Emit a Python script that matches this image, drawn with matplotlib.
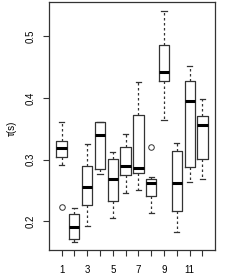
import matplotlib
matplotlib.use("Agg")
import matplotlib.pyplot as plt

plt.rcParams["font.family"] = ["Liberation Sans", "DejaVu Sans"]

groups = list(range(1, 13))
whislo = [0.2915, 0.1664, 0.1919, 0.2764, 0.2054, 0.2450, 0.2504, 0.2135, 0.3642, 0.1826, 0.2629, 0.2688]
q1 = [0.3036, 0.1707, 0.2265, 0.2841, 0.2330, 0.2748, 0.2776, 0.2407, 0.4281, 0.2163, 0.2873, 0.3008]
med = [0.3187, 0.1902, 0.2558, 0.3398, 0.2688, 0.2899, 0.2867, 0.2613, 0.4418, 0.2613, 0.3951, 0.3561]
q3 = [0.3296, 0.2114, 0.2894, 0.3615, 0.3008, 0.3208, 0.3719, 0.2678, 0.4862, 0.3138, 0.4281, 0.3702]
whishi = [0.3605, 0.2211, 0.3252, 0.3615, 0.3127, 0.3415, 0.4260, 0.2711, 0.5410, 0.3273, 0.4520, 0.3984]
fliers = [[0.2228], [], [], [], [], [], [], [0.3198], [], [], [], []]
ylabel = "τ(s)"

stats = []
for i in range(len(groups)):
    stats.append({"whislo": whislo[i], "q1": q1[i], "med": med[i], "q3": q3[i],
                  "whishi": whishi[i], "fliers": fliers[i]})

fig = plt.figure(figsize=(2.40, 2.77), dpi=100)
ax = fig.add_axes([49 / 240, 1 - 250 / 277, 166 / 240, 248 / 277])

edge = "#333333"
ax.bxp(stats, positions=groups, widths=0.8, showfliers=True,
       boxprops=dict(color=edge, linewidth=0.9),
       whiskerprops=dict(color=edge, linewidth=0.9, linestyle=(0, (2, 2))),
       capprops=dict(color=edge, linewidth=0.9),
       medianprops=dict(color="black", linewidth=2.2, solid_capstyle="butt"),
       flierprops=dict(marker="o", markersize=4, markerfacecolor="none",
                       markeredgecolor=edge, markeredgewidth=0.7),
       capwidths=0.4)

ax.set_xlim(0.02, 12.98)
ax.set_ylim(0.153, 0.556)
ax.set_xticks(groups)
ax.set_xticklabels([str(g) if g % 2 == 1 else "" for g in groups])
ax.set_yticks([0.2, 0.3, 0.4, 0.5])
ax.set_yticklabels(["0.2", "0.3", "0.4", "0.5"], rotation=90, va="center")
ax.tick_params(axis="both", labelsize=7, length=4.5, width=0.8, color=edge)
ax.tick_params(axis="y", pad=5)
ax.tick_params(axis="x", pad=6)
for s in ax.spines.values():
    s.set_color(edge)
    s.set_linewidth(0.9)
fig.text(12 / 240, 1 - 128 / 277, ylabel, rotation=90, fontsize=7, ha="center", va="center")

fig.savefig("out.png", dpi=100)
